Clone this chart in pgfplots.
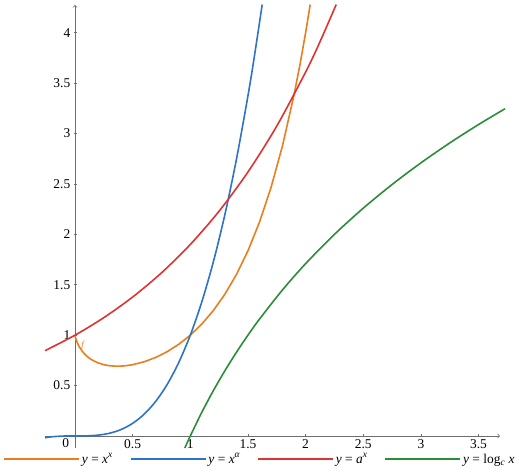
\documentclass[border=0pt]{standalone}
\usepackage{fontspec}
\setmainfont{Liberation Serif}
\usepackage{pgfplots}
\pgfplotsset{compat=1.18}

\definecolor{cOrange}{RGB}{235,125,30}
\definecolor{cBlue}{RGB}{45,115,200}
\definecolor{cRed}{RGB}{225,50,50}
\definecolor{cGreen}{RGB}{45,140,55}
\definecolor{cAxis}{RGB}{110,110,110}

\begin{document}
\begin{tikzpicture}
\begin{axis}[
    scale only axis,
    width=455bp, height=443.1bp,
    xmin=-0.26, xmax=3.686,
    ymin=-0.12, ymax=4.276,
    enlargelimits=false,
    axis lines=middle,
    axis line style={cAxis, line width=0.8bp, ->},
    clip=false,
    xtick={0.5,1,1.5,2,2.5,3,3.5},
    ytick={0.5,1,1.5,2,2.5,3,3.5,4},
    major tick length=3bp,
    tick style={cAxis, line width=0.6bp},
    tick label style={font=\fontsize{13.5}{15}\selectfont, inner sep=1bp},
    /pgf/number format/assume math mode=true,
    xticklabel style={anchor=north, yshift=-1bp},
    yticklabel style={anchor=east, xshift=-2bp},
    legend columns=4,
    legend image code/.code={\draw[#1] (0bp,0bp) -- (75bp,0bp);},
    legend style={at={(0.4725,-0.025)}, anchor=center, draw=none,
        font=\fontsize{13.5}{15}\selectfont,
        /tikz/every even column/.append style={column sep=15bp}},
    every axis plot/.append style={line width=1.6bp},
]

% y = x^x
\addplot[draw=cOrange] coordinates {
    (0,1) (0.0005,0.9962) (0.002,0.98765) (0.005,0.9739) (0.01,0.9550)
    (0.02,0.9247) (0.03,0.9001) (0.04,0.8792) (0.06,0.8447) (0.08,0.8170)
    (0.1,0.7943) (0.125,0.7711) (0.15,0.7524) (0.2,0.7248) (0.25,0.7071)
    (0.3,0.6968) (0.35,0.6925) (0.4,0.6931) (0.45,0.6981) (0.5,0.7071)
    (0.6,0.7360) (0.7,0.7791) (0.8,0.8365) (0.9,0.9096) (1,1)
    (1.1,1.1105) (1.2,1.2446) (1.3,1.4064) (1.4,1.6017) (1.5,1.8371)
    (1.6,2.1212) (1.7,2.4647) (1.8,2.8808) (1.9,3.3859) (1.95,3.6776)
    (2.0,4.0) (2.0398,4.28)
};
\addlegendentry{\textit{y} = \textit{x}\textsuperscript{\textit{x}}}

% y = x^alpha
\addplot[draw=cBlue, smooth] coordinates {
    (-0.26,-0.0176) (-0.2,-0.008) (-0.1,-0.001) (0,0) (0.1,0.001)
    (0.2,0.008) (0.3,0.027) (0.4,0.064) (0.5,0.125) (0.6,0.216)
    (0.7,0.343) (0.8,0.512) (0.9,0.729) (1,1) (1.1,1.331) (1.2,1.728)
    (1.3,2.197) (1.4,2.744) (1.5,3.375) (1.55,3.7239) (1.6237,4.28)
};
\addlegendentry{\textit{y} = \textit{x}\textsuperscript{\textit{α}}}

% y = a^x
\addplot[draw=cRed, smooth] coordinates {
    (-0.26,0.8463) (0,1) (0.25,1.1741) (0.5,1.3784) (0.75,1.6183)
    (1,1.9) (1.25,2.2307) (1.5,2.6190) (1.75,3.0748) (2,3.61)
    (2.125,3.9116) (2.2653,4.28)
};
\addlegendentry{\textit{y} = \textit{a}\textsuperscript{\textit{x}}}

% y = log_c x
\addplot[draw=cGreen, smooth] coordinates {
    (0.9525,-0.12) (1,0) (1.1,0.2351) (1.2,0.4497) (1.3,0.6471)
    (1.4,0.8298) (1.5,1.0) (1.6,1.1592) (1.8,1.4497) (2.0,1.7095)
    (2.25,2.0) (2.5,2.2598) (2.75,2.4949) (3.0,2.7095) (3.25,2.9069)
    (3.5,3.0897) (3.73,3.2467)
};
\addlegendentry{\textit{y} = log\textsubscript{\textit{c}} \textit{x}}

\node[anchor=north east, inner sep=1bp, font=\fontsize{13.5}{15}\selectfont]
    at (axis cs:-0.04,0) [yshift=-1bp] {0};
\node[cOrange, font=\fontsize{9}{10}\selectfont\itshape]
    at (axis cs:0.065,0.9) {f};

\coordinate (bl) at (axis cs:-0.6505,-0.367);
\coordinate (tr) at (axis cs:3.8508,4.3254);
\end{axis}
\pgfresetboundingbox
\useasboundingbox (bl) rectangle (tr);
\end{tikzpicture}
\end{document}
